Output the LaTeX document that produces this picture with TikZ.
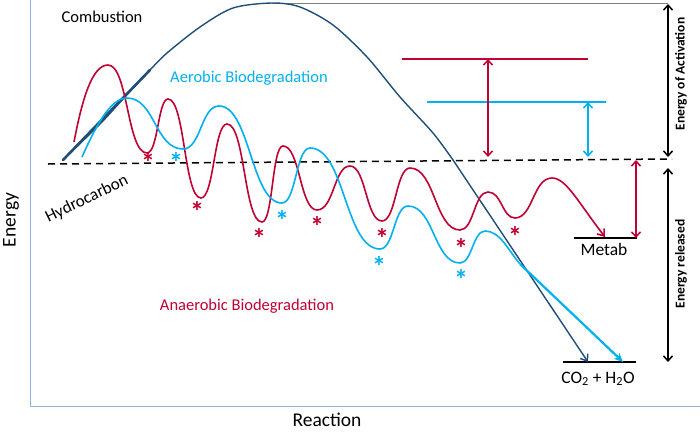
\documentclass[tikz,border=0pt]{standalone}
\usepackage{fontspec}
\setmainfont{Carlito}
\usetikzlibrary{arrows.meta}
\definecolor{anared}{RGB}{192,0,48}
\definecolor{aerocyan}{RGB}{0,176,240}
\definecolor{combblue}{RGB}{31,78,121}
\definecolor{axisblue}{RGB}{149,179,215}

\begin{document}
\begin{tikzpicture}[x=1pt, y=-1pt,
    lbl/.style={font=\fontsize{16.5}{18}\selectfont, inner sep=0pt},
    lvllbl/.style={font=\fontsize{17.5}{19}\selectfont, inner sep=0pt},
    axislbl/.style={font=\fontsize{19.5}{21}\selectfont, inner sep=0pt},
    sidelbl/.style={font=\bfseries\fontsize{13.5}{15}\selectfont, inner sep=0pt, rotate=90},
    redstar/.style={text=anared, font=\bfseries\fontsize{28}{28}\selectfont, inner sep=0pt, yshift=-5pt},
    cyanstar/.style={redstar, text=aerocyan},
    wave/.style={line width=1.6pt},
    level/.style={line width=1.5pt},
    barbs/.style={{Straight Barb[length=5pt,width=9pt]}-{Straight Barb[length=5pt,width=9pt]}},
    barb/.style={-{Straight Barb[length=6pt,width=9pt]}},
  ]
      \useasboundingbox (0,0) rectangle (700,431);

      % axes
      \draw[axisblue, line width=0.8pt] (30,0) -- (30,406) -- (700,406);
      \node[axislbl, rotate=90] (energy) at (11,220) {Energy};
      \node[axislbl] (reaction) at (327,420) {Reaction};

      % hydrocarbon level and product levels
      \draw[line width=1.5pt, dash pattern=on 7pt off 5pt] (48,164) -- (672,159);
      \node[lbl, font=\fontsize{17}{18}\selectfont, rotate=26] (hydro) at (87,199) {Hydrocarbon};
      \draw[level] (574,238) -- (637,238);
      \node[lvllbl] (metab) at (604,249) {Metab};
      \draw[level] (563,362) -- (636,362);
      \node[lvllbl, anchor=base] (products) at (598,383) {CO\textsubscript{2} + H\textsubscript{2}O};

      % combustion
      \draw[gray, line width=1pt] (272,3) -- (668,3);
      \draw[combblue, line width=2.6pt, line cap=round] (63,160) -- (150,70);
      \draw[combblue, line width=1.4pt, barb] plot[smooth] coordinates {(63,160) (100,124) (123,99)
        (150,70) (167,53) (200,27) (233,8) (272,3) (300,7) (333,25) (367,57) (400,97) (433,133) (453,160)}
        -- (588,362);
      \node[lbl] (combustion) at (102,17) {Combustion};

      % anaerobic
      \draw[anared, wave, barb] (74,142) .. controls (82,100) and (92,65) .. (108,65)
        .. controls (128,65) and (127,153) .. (147,153)
        .. controls (158,153) and (158,99) .. (168,99)
        .. controls (185,99) and (184,198) .. (201,198)
        .. controls (214,198) and (214,124) .. (227,124)
        .. controls (245,124) and (244,222) .. (262,222)
        .. controls (273,222) and (272,146) .. (283,146)
        .. controls (300,146) and (300,210) .. (317,210)
        .. controls (334,210) and (334,166) .. (350,166)
        .. controls (366,166) and (366,221) .. (382,221)
        .. controls (396,221) and (396,168) .. (410,168)
        .. controls (435,168) and (435,230) .. (460,230)
        .. controls (474,230) and (474,192) .. (488,192)
        .. controls (502,192) and (502,218) .. (515,218)
        .. controls (533,218) and (533,178) .. (552,178)
        .. controls (566,178) and (578,202) .. (605,237);
      \foreach \x/\y [count=\i] in {148/157, 197/206, 259/233, 317/221, 382/233, 461/243, 515/231}
        \node[redstar] (rs\i) at (\x,\y) {*};
      \node[lbl, text=anared] (anaerobic) at (247,306) {Anaerobic Biodegradation};

      % aerobic
      \draw[aerocyan, wave] (82,157) .. controls (95,128) and (110,98) .. (127,98)
        .. controls (155,98) and (155,149) .. (183,149)
        .. controls (201,149) and (201,106) .. (219,106)
        .. controls (250,106) and (251,203) .. (282,203)
        .. controls (296,203) and (296,148) .. (310,148)
        .. controls (345,148) and (345,249) .. (380,249)
        .. controls (394,249) and (394,206) .. (408,206)
        .. controls (434,206) and (434,263) .. (460,263)
        .. controls (472,263) and (473,231) .. (485,231)
        .. controls (500,231) and (508,250) .. (520,264);
      \draw[aerocyan, line width=2.2pt, -{Stealth[length=9pt,width=8pt]}] (520,264) -- (623,362);
      \foreach \x/\y [count=\i] in {176/157, 282/215, 379/261, 461/274}
        \node[cyanstar] (cs\i) at (\x,\y) {*};
      \node[lbl, text=aerocyan] (aerobic) at (249,78) {Aerobic Biodegradation};

      % activation energies
      \draw[anared, level] (402,59) -- (588,59);
      \draw[aerocyan, level] (427,102) -- (606,102);
      \draw[anared, level, barbs] (488,59) -- (488,157);
      \draw[aerocyan, level, barbs] (588,102) -- (588,157);
      \draw[anared, level, barbs] (636,160) -- (636,238);

      \draw[level, barbs] (668,4) -- (668,157);
      \draw[level, barbs] (668,168) -- (668,362);
      \node[sidelbl] (actlbl) at (681,74) {Energy of Activation};
      \node[sidelbl] (rellbl) at (681,264) {Energy released};
\end{tikzpicture}
\end{document}
